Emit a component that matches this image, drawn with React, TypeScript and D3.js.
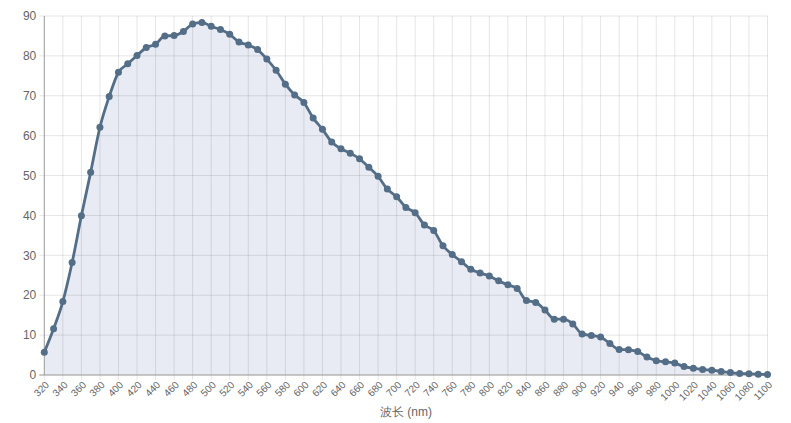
import React, { useEffect } from "react";
import * as d3 from "d3";

const wavelengths: number[] = d3.range(320, 1101, 10);
const values: number[] = [
  5.7, 11.6, 18.4, 28.2, 39.9, 50.8, 62.1, 69.8, 75.9, 78.0,
  80.1, 82.1, 82.9, 85.0, 85.1, 86.1, 88.0, 88.4, 87.4, 86.6,
  85.4, 83.5, 82.7, 81.6, 79.2, 76.4, 72.9, 70.2, 68.3, 64.4,
  61.6, 58.4, 56.7, 55.6, 54.2, 52.1, 49.8, 46.6, 44.7, 42.0,
  40.7, 37.6, 36.2, 32.4, 30.2, 28.4, 26.5, 25.6, 24.8, 23.6,
  22.6, 21.7, 18.7, 18.2, 16.3, 14.0, 14.0, 12.8, 10.3, 9.9,
  9.5, 7.9, 6.4, 6.3, 5.9, 4.5, 3.6, 3.3, 3.0, 2.1,
  1.7, 1.4, 1.2, 0.9, 0.6, 0.4, 0.3, 0.2, 0.1,
];
const xTicks: number[] = d3.range(320, 1101, 20);
const yTicks: number[] = d3.range(0, 91, 10);
const xTitle = "波长 (nm)";

const W = 791;
const H = 423;
const M = { left: 44.3, right: 791 - 767.5, top: 16, bottom: 423 - 375 };

export default function App() {
  useEffect(() => {
    document.body.style.margin = "0";
  }, []);
  const x = d3.scaleLinear().domain([320, 1100]).range([M.left, W - M.right]);
  const y = d3.scaleLinear().domain([0, 90]).range([H - M.bottom, M.top]);
  const pts = wavelengths.map((w, i) => [w, values[i]] as [number, number]);
  const line = d3
    .line<[number, number]>()
    .x((d) => x(d[0]))
    .y((d) => y(d[1]))
    .curve(d3.curveMonotoneX);
  const area = d3
    .area<[number, number]>()
    .x((d) => x(d[0]))
    .y0(y(0))
    .y1((d) => y(d[1]))
    .curve(d3.curveMonotoneX);
  const font = "'Liberation Sans', Arial, sans-serif";
  const x0 = x(320);
  const x1 = x(1100);
  const yb = y(0);
  const yt = y(90);
  return (
    <svg width={W} height={H} style={{ display: "block" }} fontFamily={font}>
      <rect width={W} height={H} fill="#fff" />
      <path d={area(pts) || ""} fill="#e8ebf3" />
      {yTicks.map((t) => (
        <line key={"gy" + t} x1={x0 - 5} x2={x1} y1={y(t)} y2={y(t)} stroke="rgba(0,0,0,0.1)" strokeWidth={1} />
      ))}
      {xTicks.map((t) => (
        <line key={"gx" + t} x1={x(t)} x2={x(t)} y1={yt} y2={yb + 5} stroke="rgba(0,0,0,0.1)" strokeWidth={1} />
      ))}
      <line x1={x0} x2={x0} y1={yt} y2={yb} stroke="#a0a0a0" strokeWidth={1} />
      <line x1={x0 - 5} x2={x1} y1={yb} y2={yb} stroke="#a0a0a0" strokeWidth={1} />
      {yTicks.map((t) => (
        <text key={"ty" + t} x={x0 - 8} y={y(t)} dy="0.35em" textAnchor="end" fontSize={12} fill="#666">
          {t}
        </text>
      ))}
      {xTicks.map((t) => (
        <text
          key={"tx" + t}
          transform={`translate(${x(t) + 3},${yb + 8}) rotate(-45)`}
          textAnchor="end"
          dy="0.35em"
          fontSize={10}
          fill="#666"
        >
          {t}
        </text>
      ))}
      <path d={line(pts) || ""} fill="none" stroke="#546e88" strokeWidth={2.8} />
      {pts.map((d, i) => (
        <circle key={"p" + i} cx={x(d[0])} cy={y(d[1])} r={3.5} fill="#546e88" />
      ))}
      <text x={(x0 + x1) / 2} y={416} textAnchor="middle" fontSize={12} fill="#666">
        {xTitle}
      </text>
    </svg>
  );
}
